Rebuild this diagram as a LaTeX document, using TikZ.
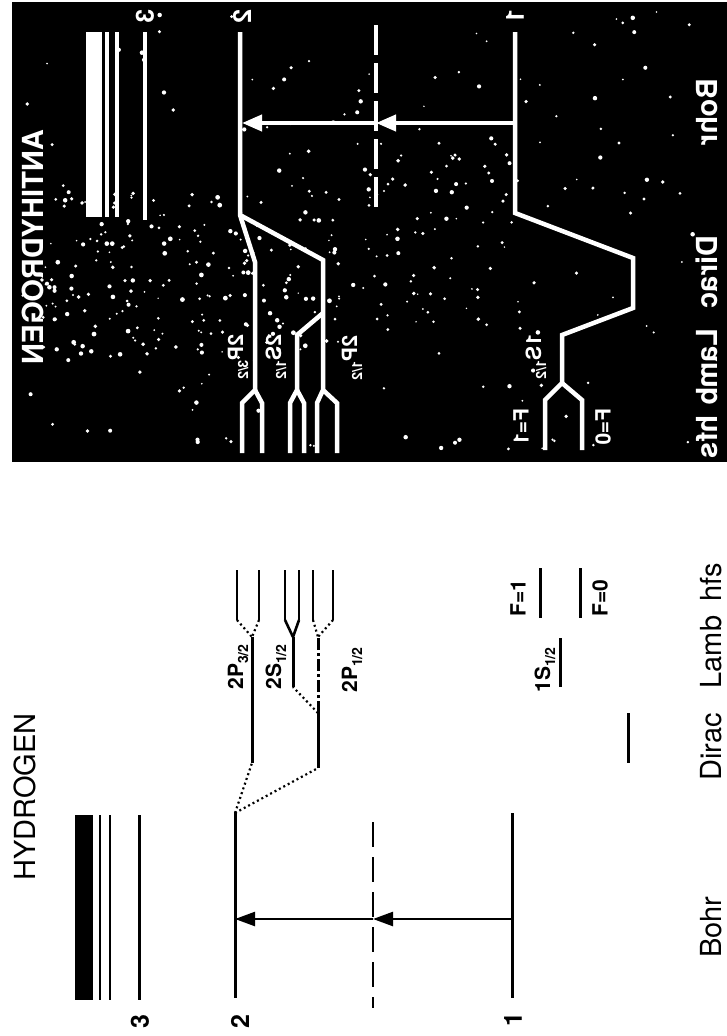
\documentclass[tikz,border=0pt]{standalone}
\usepackage{fontspec}
\setmainfont{TeX Gyre Heros}
\usetikzlibrary{arrows.meta}
\newcommand{\bigfnt}{\fontsize{29pt}{34pt}\selectfont}
\newcommand{\numfnt}{\fontsize{25pt}{30pt}\selectfont}
\newcommand{\smfnt}{\fontsize{21pt}{25pt}\selectfont}
\newcommand{\sbs}[1]{\raisebox{-0.45ex}{\fontsize{14pt}{16pt}\selectfont #1}}
\begin{document}
\begin{tikzpicture}[x=1pt,y=-1pt,
  hlev/.style={line width=3pt,black},
  hthin/.style={line width=2.6pt,black},
  hdot/.style={line width=2.2pt,black,dash pattern=on 2pt off 3pt},
  hdashdot/.style={line width=3pt,black,dash pattern=on 12pt off 3pt on 3pt off 3pt},
  hdash/.style={line width=2.6pt,black,dash pattern=on 25pt off 10pt},
  harr/.style={line width=2.4pt,black,-{Triangle[length=20pt,width=14pt]}},
  alev/.style={line width=4.5pt,white,line join=miter},
  athin/.style={line width=4pt,white},
  adash/.style={line width=4pt,white,dash pattern=on 30pt off 8pt},
  aarr/.style={line width=4pt,white,-{Triangle[length=20pt,width=16pt]}},
  hlab/.style={inner sep=0pt,rotate=90,text=black},
  alab/.style={inner sep=0pt,cm={0,-1,-1,0,(0,0)},text=white},
]
\useasboundingbox (0,0) rectangle (727,1036);
\fill[white] (0,0) rectangle (727,1036);

% ================= HYDROGEN (lower part) =================
\fill[black] (75,815) rectangle (93,1000);
\draw[hthin] (100,815) -- (100,1000);
\draw[hthin] (110,815) -- (110,1000);
\coordinate (h3t) at (139,815); \coordinate (h3b) at (139,1000);
\draw[hlev] (h3t) -- (h3b);
\coordinate (h2t) at (235,813); \coordinate (h2b) at (235,998);
\draw[hlev] (h2t) -- (h2b);
\coordinate (hvt) at (373,822); \coordinate (hvb) at (373,1008);
\draw[hdash] (hvt) -- (hvb);
\coordinate (h1t) at (512,813); \coordinate (h1b) at (512,998);
\draw[hlev] (h1t) -- (h1b);
\coordinate (h1m) at (512,919); \coordinate (hvm) at (373,919); \coordinate (h2m) at (235,919);
\draw[harr] (h1m) -- (hvm);
\draw[harr] (hvm) -- (h2m);

% Dirac
\coordinate (hD32b) at (252,763); \coordinate (hD32t) at (252,637);
\draw[hdot] (h2t) -- (hD32b);
\draw[hlev] (hD32b) -- (hD32t);
\coordinate (hD12b) at (318,768); \coordinate (hD12t) at (318,713);
\draw[hdot] (h2t) -- (hD12b);
\draw[hlev] (hD12b) -- (hD12t);
\draw[hlev] (628,713) -- (628,763);
% Lamb
\coordinate (hP12t) at (318,637);
\draw[hdashdot] (hD12t) -- (hP12t);
\coordinate (hS12b) at (293,687); \coordinate (hS12t) at (293,637);
\draw[hdot] (hD12t) -- (hS12b);
\draw[hlev] (hS12b) -- (hS12t);
\draw[hlev] (560,638) -- (560,687);
% hfs
\foreach \a/\b/\c/\s in {237/259/252/hdot, 285/299/293/hthin, 313/333/318/hdot}{
  \draw[hthin] (\a,570) -- (\a,620);
  \draw[hthin] (\b,570) -- (\b,620);
  \draw[\s] (\a,620) -- (\c,637);
  \draw[\s] (\b,620) -- (\c,637);
}
\draw[hlev] (540,568) -- (540,618);
\draw[hlev] (580,568) -- (580,618);

% hydrogen labels
\node[hlab,font=\bigfnt] (htitle) at (25,797) {HYDROGEN};
\node[hlab,font=\bfseries\numfnt] (hn3) at (140,1022) {3};
\node[hlab,font=\bfseries\numfnt] (hn2) at (240,1022) {2};
\node[hlab,font=\bfseries\numfnt] (hn1) at (513,1020) {1};
\node[hlab,font=\bfseries\smfnt] (hl2p32) at (238,667) {2P\sbs{3/2}};
\node[hlab,font=\bfseries\smfnt] (hl2s12) at (276,667) {2S\sbs{1/2}};
\node[hlab,font=\bfseries\smfnt] (hl2p12) at (352,670) {2P\sbs{1/2}};
\node[hlab,font=\bfseries\smfnt] (hl1s12) at (545,670) {1S\sbs{1/2}};
\node[hlab,font=\bfseries\smfnt] (hlF1) at (518,598) {F=1};
\node[hlab,font=\bfseries\smfnt] (hlF0) at (600,598) {F=0};
\node[hlab,font=\bigfnt] (hsBohr) at (711,927) {Bohr};
\node[hlab,font=\bigfnt] (hsDirac) at (711,747) {Dirac};
\node[hlab,font=\bigfnt] (hsLamb) at (711,652) {Lamb};
\node[hlab,font=\bigfnt] (hshfs) at (711,582) {hfs};

% ================= ANTIHYDROGEN (upper part) =================
\fill[black] (12,2) rectangle (727,462);
\pgfmathsetseed{12}
\foreach \i in {1,...,150}{
  \pgfmathsetmacro\xx{20+680*rnd}\pgfmathsetmacro\yy{8+448*rnd}\pgfmathsetmacro\rr{0.8+1.5*rnd}
  \fill[white] (\xx,\yy) circle[radius=\rr pt];
}
\foreach \i in {1,...,200}{
  \pgfmathsetmacro\xx{40+300*rnd}\pgfmathsetmacro\yy{190+170*rnd}\pgfmathsetmacro\rr{0.8+1.6*rnd}
  \fill[white] (\xx,\yy) circle[radius=\rr pt];
}
\foreach \i in {1,...,80}{
  \pgfmathsetmacro\xx{360+160*rnd}\pgfmathsetmacro\yy{140+190*rnd}\pgfmathsetmacro\rr{0.8+1.4*rnd}
  \fill[white] (\xx,\yy) circle[radius=\rr pt];
}

\fill[white] (86,32) rectangle (102,217);
\draw[athin] (107,32) -- (107,217);
\draw[athin] (117,32) -- (117,217);
\coordinate (a3t) at (145,32); \coordinate (a3b) at (145,220);
\draw[alev] (a3t) -- (a3b);
\coordinate (a2t) at (240,32); \coordinate (a2b) at (240,215);
\coordinate (a1t) at (515,32); \coordinate (a1b) at (515,213);
\coordinate (avt) at (376,25); \coordinate (avb) at (376,210);
\draw[adash] (avt) -- (avb);
% n=2 structure
\draw[alev] (a2t) -- (a2b) -- (255,262) -- (255,390) -- (242,403) -- (242,453);
\draw[alev] (255,390) -- (262,403) -- (262,453);
\draw[alev] (a2b) -- (323,260) -- (323,390) -- (317,403) -- (317,453);
\draw[alev] (323,390) -- (337,403) -- (337,453);
\draw[alev] (323,313) -- (297,335) -- (297,390) -- (290,403) -- (290,453);
\draw[alev] (297,390) -- (304,403) -- (304,453);
% n=1 structure
\draw[alev] (a1t) -- (a1b) -- (633,258) -- (633,308) -- (562,335) -- (562,383) -- (545,400) -- (545,450);
\draw[alev] (562,383) -- (582,400) -- (582,450);
% arrows
\coordinate (a1m) at (515,123); \coordinate (avm) at (376,123); \coordinate (a2m) at (242,123);
\draw[aarr] (a1m) -- (avm);
\draw[aarr] (avm) -- (a2m);

% antihydrogen labels (mirrored)
\node[alab,font=\bfseries\bigfnt] (atitle) at (33,247) {ANTIHYDROGEN};
\node[alab,font=\bfseries\numfnt] (an3) at (145,16) {3};
\node[alab,font=\bfseries\numfnt] (an2) at (242,16) {2};
\node[alab,font=\bfseries\numfnt] (an1) at (515,16) {1};
\node[alab,font=\bfseries\smfnt] (al2p32) at (238,357) {2P\sbs{3/2}};
\node[alab,font=\bfseries\smfnt] (al2s12) at (276,357) {2S\sbs{1/2}};
\node[alab,font=\bfseries\smfnt] (al2p12) at (352,358) {2P\sbs{1/2}};
\node[alab,font=\bfseries\smfnt] (al1s12) at (536,357) {1S\sbs{1/2}};
\node[alab,font=\bfseries\smfnt] (alF1) at (521,427) {F=1};
\node[alab,font=\bfseries\smfnt] (alF0) at (603,427) {F=0};
\node[alab,font=\bfseries\bigfnt] (asBohr) at (707,112) {Bohr};
\node[alab,font=\bfseries\bigfnt] (asDirac) at (707,272) {Dirac};
\node[alab,font=\bfseries\bigfnt] (asLamb) at (707,367) {Lamb};
\node[alab,font=\bfseries\bigfnt] (ashfs) at (707,437) {hfs};
\end{tikzpicture}
\end{document}
